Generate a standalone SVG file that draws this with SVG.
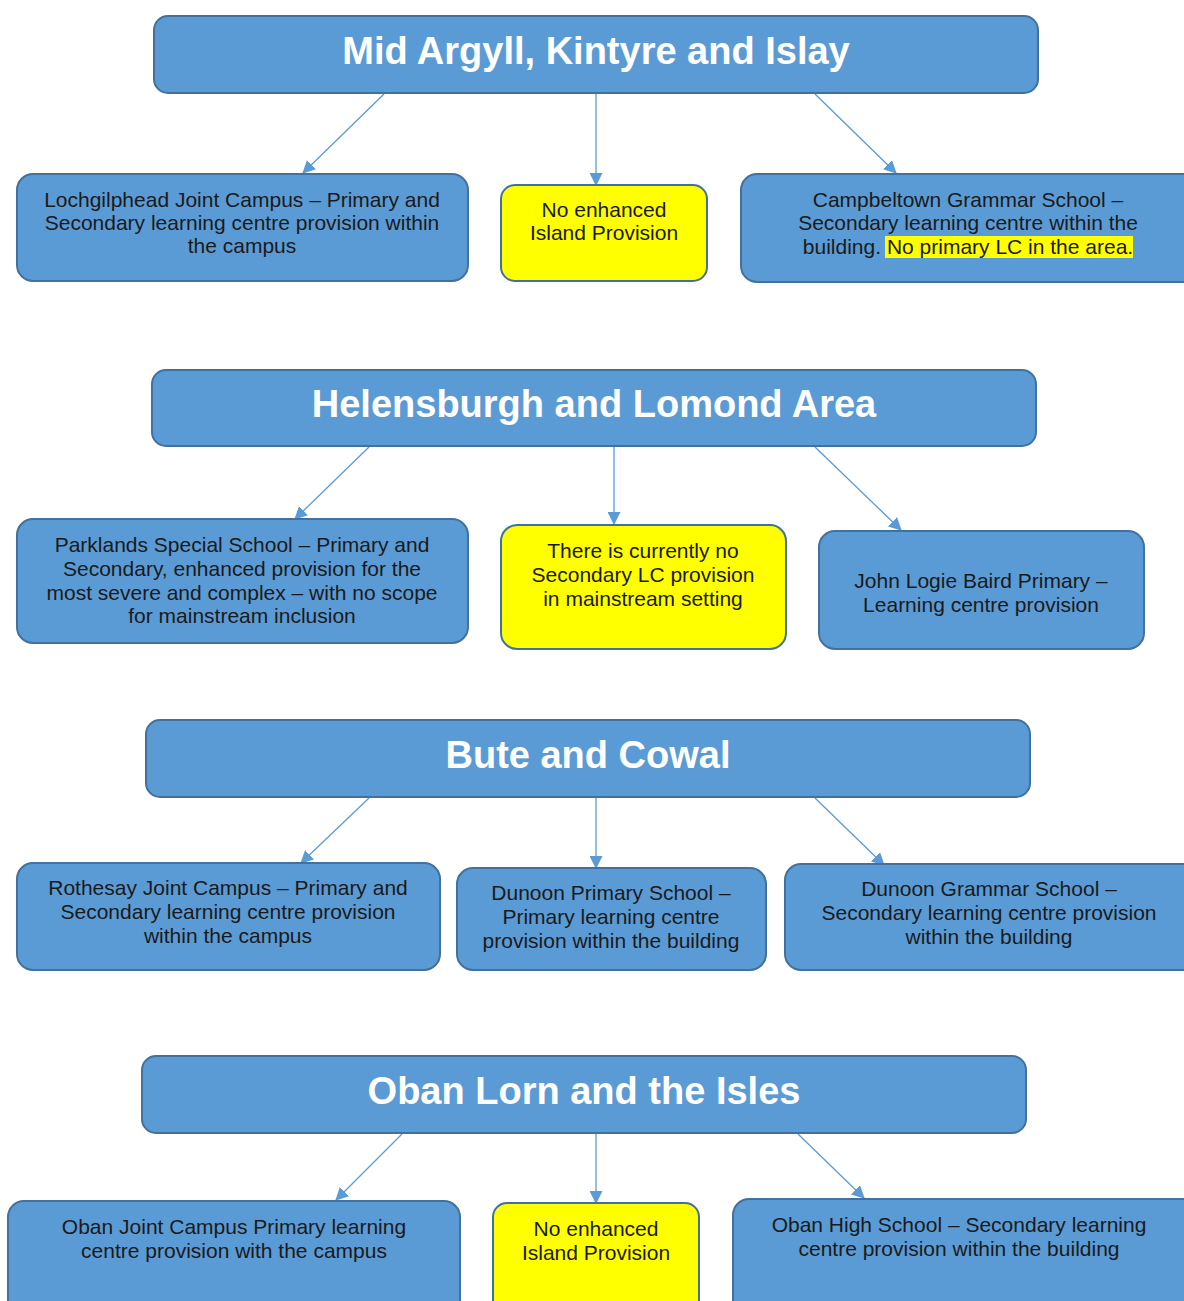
<svg xmlns="http://www.w3.org/2000/svg" width="1184" height="1301" viewBox="0 0 1184 1301">
  <style>
    .box { fill: #5b9bd5; stroke: #41719c; stroke-width: 2; }
    .note { fill: #ffff00; stroke: #41719c; stroke-width: 2; }
    .head { font-family: "Liberation Sans", Arial, sans-serif; font-weight: bold; font-size: 38px; fill: #ffffff; text-anchor: middle; }
    .txt { font-family: "Liberation Sans", Arial, sans-serif; font-size: 21px; fill: #1a1a1a; text-anchor: middle; }
    .conn { stroke: #5b9bd5; stroke-width: 1.3; fill: none; marker-end: url(#arrow); }
  </style>
  <defs>
    <marker id="arrow" viewBox="0 0 12 12" refX="11" refY="6" markerWidth="13" markerHeight="13" markerUnits="userSpaceOnUse" orient="auto">
      <path d="M0,0 L12,6 L0,12 z" fill="#5b9bd5"/>
    </marker>
  </defs>
  <rect width="1184" height="1301" fill="#ffffff"/>

  <!-- connectors -->
  <g id="connectors">
    <line class="conn" x1="384" y1="94" x2="303" y2="173"/>
    <line class="conn" x1="596" y1="94" x2="596" y2="185"/>
    <line class="conn" x1="815" y1="94" x2="896" y2="173"/>

    <line class="conn" x1="369" y1="447" x2="295" y2="519"/>
    <line class="conn" x1="614" y1="447" x2="614" y2="524"/>
    <line class="conn" x1="815" y1="447" x2="901" y2="530"/>

    <line class="conn" x1="369" y1="798" x2="301" y2="863"/>
    <line class="conn" x1="596" y1="798" x2="596" y2="868"/>
    <line class="conn" x1="815" y1="798" x2="884" y2="865"/>

    <line class="conn" x1="402" y1="1134" x2="336" y2="1200"/>
    <line class="conn" x1="596" y1="1134" x2="596" y2="1203"/>
    <line class="conn" x1="798" y1="1134" x2="864" y2="1198"/>
  </g>

  <!-- Mid Argyll, Kintyre and Islay -->
  <g id="head-mid-argyll">
    <rect class="box" x="154" y="16" width="884" height="77" rx="14"/>
    <text class="head" x="596" y="64">Mid Argyll, Kintyre and Islay</text>
  </g>
  <g id="lochgilphead">
    <rect class="box" x="17" y="174" width="451" height="107" rx="16"/>
    <text class="txt" x="242" y="207">Lochgilphead Joint Campus – Primary and</text>
    <text class="txt" x="242" y="230">Secondary learning centre provision within</text>
    <text class="txt" x="242" y="253">the campus</text>
  </g>
  <g id="no-island-1">
    <rect class="note" x="501" y="185" width="206" height="96" rx="14"/>
    <text class="txt" x="604" y="217">No enhanced</text>
    <text class="txt" x="604" y="240">Island Provision</text>
  </g>
  <g id="campbeltown">
    <rect class="box" x="741" y="174" width="460" height="108" rx="16"/>
    <rect x="885" y="236" width="248" height="22" fill="#ffff00"/>
    <text class="txt" x="968" y="207">Campbeltown Grammar School –</text>
    <text class="txt" x="968" y="230">Secondary learning centre within the</text>
    <text class="txt" x="968" y="254">building. No primary LC in the area.</text>
  </g>

  <!-- Helensburgh and Lomond Area -->
  <g id="head-helensburgh">
    <rect class="box" x="152" y="370" width="884" height="76" rx="14"/>
    <text class="head" x="594" y="417">Helensburgh and Lomond Area</text>
  </g>
  <g id="parklands">
    <rect class="box" x="17" y="519" width="451" height="124" rx="16"/>
    <text class="txt" x="242" y="552">Parklands Special School – Primary and</text>
    <text class="txt" x="242" y="576">Secondary, enhanced provision for the</text>
    <text class="txt" x="242" y="600">most severe and complex – with no scope</text>
    <text class="txt" x="242" y="623">for mainstream inclusion</text>
  </g>
  <g id="no-secondary-lc">
    <rect class="note" x="501" y="525" width="285" height="124" rx="16"/>
    <text class="txt" x="643" y="558">There is currently no</text>
    <text class="txt" x="643" y="582">Secondary LC provision</text>
    <text class="txt" x="643" y="606">in mainstream setting</text>
  </g>
  <g id="john-logie-baird">
    <rect class="box" x="819" y="531" width="325" height="118" rx="16"/>
    <text class="txt" x="981" y="588">John Logie Baird Primary –</text>
    <text class="txt" x="981" y="612">Learning centre provision</text>
  </g>

  <!-- Bute and Cowal -->
  <g id="head-bute-cowal">
    <rect class="box" x="146" y="720" width="884" height="77" rx="14"/>
    <text class="head" x="588" y="768">Bute and Cowal</text>
  </g>
  <g id="rothesay">
    <rect class="box" x="17" y="863" width="423" height="107" rx="16"/>
    <text class="txt" x="228" y="895">Rothesay Joint Campus – Primary and</text>
    <text class="txt" x="228" y="919">Secondary learning centre provision</text>
    <text class="txt" x="228" y="943">within the campus</text>
  </g>
  <g id="dunoon-primary">
    <rect class="box" x="457" y="868" width="309" height="102" rx="16"/>
    <text class="txt" x="611" y="900">Dunoon Primary School –</text>
    <text class="txt" x="611" y="924">Primary learning centre</text>
    <text class="txt" x="611" y="948">provision within the building</text>
  </g>
  <g id="dunoon-grammar">
    <rect class="box" x="785" y="864" width="416" height="106" rx="16"/>
    <text class="txt" x="989" y="896">Dunoon Grammar School –</text>
    <text class="txt" x="989" y="920">Secondary learning centre provision</text>
    <text class="txt" x="989" y="944">within the building</text>
  </g>

  <!-- Oban Lorn and the Isles -->
  <g id="head-oban">
    <rect class="box" x="142" y="1056" width="884" height="77" rx="14"/>
    <text class="head" x="584" y="1104">Oban Lorn and the Isles</text>
  </g>
  <g id="oban-joint">
    <rect class="box" x="8" y="1201" width="452" height="120" rx="16"/>
    <text class="txt" x="234" y="1234">Oban Joint Campus Primary learning</text>
    <text class="txt" x="234" y="1258">centre provision with the campus</text>
  </g>
  <g id="no-island-2">
    <rect class="note" x="493" y="1203" width="206" height="118" rx="14"/>
    <text class="txt" x="596" y="1236">No enhanced</text>
    <text class="txt" x="596" y="1260">Island Provision</text>
  </g>
  <g id="oban-high">
    <rect class="box" x="733" y="1199" width="468" height="122" rx="16"/>
    <text class="txt" x="959" y="1232">Oban High School – Secondary learning</text>
    <text class="txt" x="959" y="1256">centre provision within the building</text>
  </g>
</svg>
